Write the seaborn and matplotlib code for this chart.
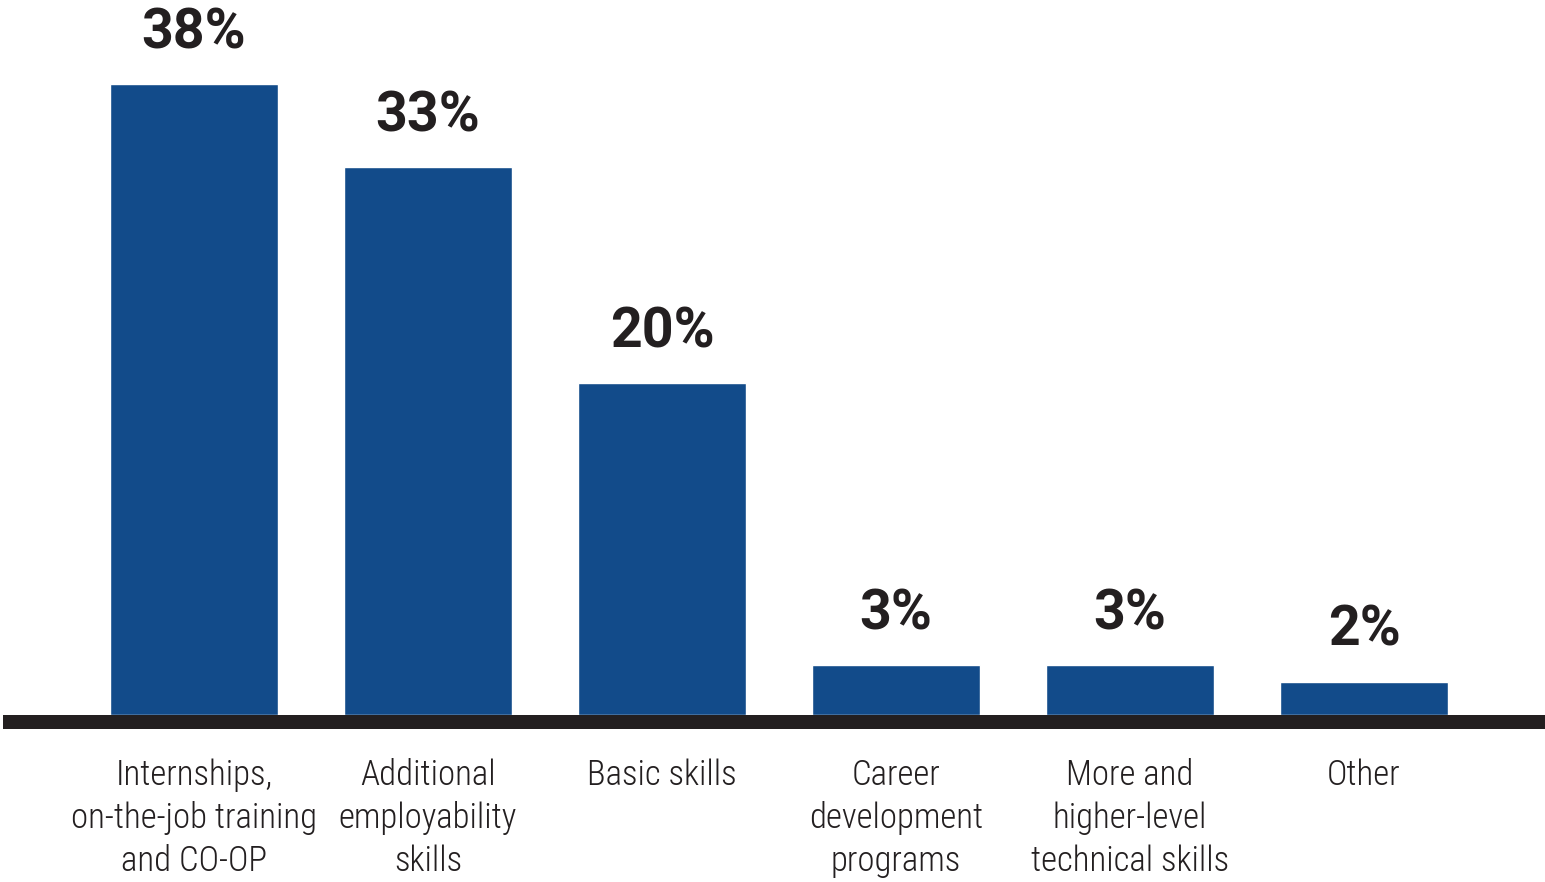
import matplotlib
matplotlib.use("Agg")
import matplotlib.pyplot as plt
from matplotlib import font_manager
import seaborn as sns
import pandas as pd

categories = [
    "Internships,\non-the-job training\nand CO-OP",
    "Additional\nemployability\nskills",
    "Basic skills",
    "Career\ndevelopment\nprograms",
    "More and\nhigher-level\ntechnical skills",
    "Other",
]
values = [38, 33, 20, 3, 3, 2]
value_labels = ["38%", "33%", "20%", "3%", "3%", "2%"]

df = pd.DataFrame({"category": categories, "value": values})

# pick a narrow font if one is around
installed = {f.name for f in font_manager.fontManager.ttflist}
narrow = "Roboto"
for name in ["Roboto Condensed", "Open Sans Condensed", "Liberation Sans Narrow",
             "Noto Sans Condensed"]:
    if name in installed:
        narrow = name
        break

sns.set_style("white")
plt.rcParams["font.family"] = [narrow, "DejaVu Sans"]

fig = plt.figure(figsize=(15.45, 8.82), dpi=100)
ax = fig.add_axes([10 / 1545, 167 / 882, 1535 / 1545, 715 / 882])

sns.barplot(data=df, x="category", y="value", color="#124B8A", saturation=1,
            width=0.714, ax=ax)

ax.set_xlim((10 - 194) / 234, (1545 - 194) / 234)
ax.set_ylim(0, 715 / 16.6)

for i, (v, lab) in enumerate(zip(values, value_labels)):
    ax.annotate(lab, (i, v), xytext=(0, 18), textcoords="offset points",
                ha="center", va="bottom", fontsize=40, fontweight="bold",
                family=["Roboto", "DejaVu Sans"], color="#231f20")

for s in ["top", "left", "right"]:
    ax.spines[s].set_visible(False)
ax.spines["bottom"].set_position(("outward", 5.04))
ax.spines["bottom"].set_linewidth(10.08)
ax.spines["bottom"].set_color("#231f20")

ax.set_yticks([])
ax.set_xlabel("")
ax.set_ylabel("")

# size the labels so the widest line is about as wide as in the original
renderer = fig.canvas.get_renderer()
size = 30
while size > 12:
    t = fig.text(0, 0, "on-the-job training", fontsize=size, fontweight="light")
    w = t.get_window_extent(renderer).width
    t.remove()
    if w <= 250:
        break
    size -= 0.5

# line spacing so baselines sit ~44px apart
t1 = fig.text(0, 0, "Ag", fontsize=size, fontweight="light")
t2 = fig.text(0, 0, "Ag\nAg", fontsize=size, fontweight="light")
step = t2.get_window_extent(renderer).height - t1.get_window_extent(renderer).height
t1.remove()
t2.remove()
spacing = 1.2 * 44 / step

ax.tick_params(axis="x", length=0, pad=26, labelsize=size, labelcolor="#231f20")
for t in ax.get_xticklabels():
    t.set_fontweight("light")
    t.set_linespacing(spacing)

fig.savefig("out.png", dpi=100)
